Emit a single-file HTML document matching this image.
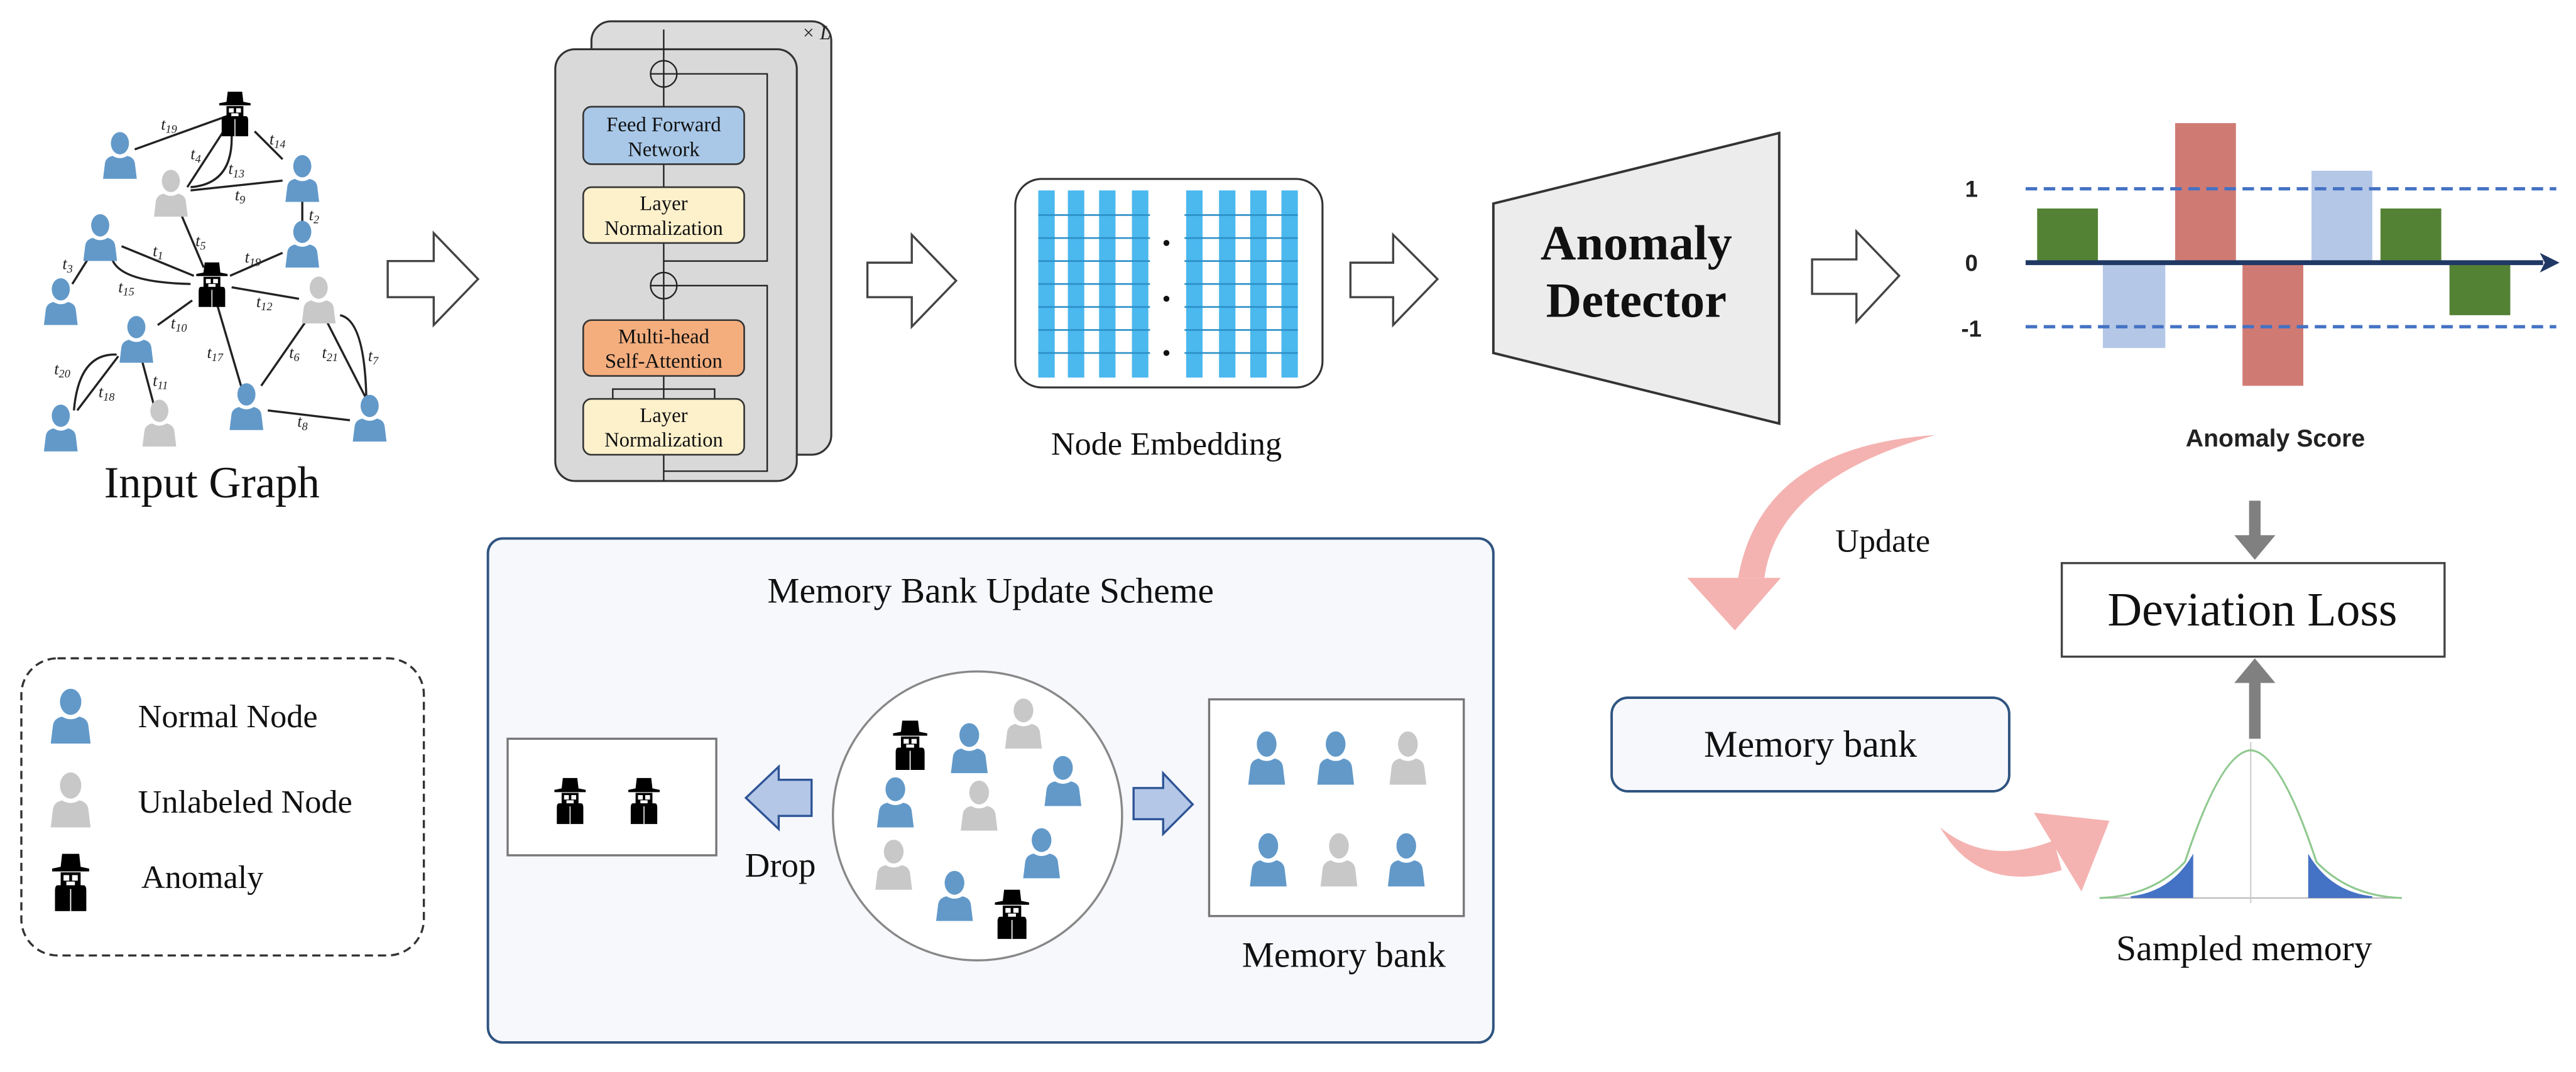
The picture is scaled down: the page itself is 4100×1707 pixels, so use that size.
<!DOCTYPE html>
<html><head><meta charset="utf-8"><style>
html,body{margin:0;padding:0;background:#fff;}
svg{display:block;}
.s{font-family:"Liberation Serif",serif;}
.a{font-family:"Liberation Sans",sans-serif;}
</style></head><body>
<svg width="4100" height="1707" viewBox="0 0 1568 653" preserveAspectRatio="none" xmlns="http://www.w3.org/2000/svg">
<defs>
<symbol id="p" viewBox="0 0 30 32" preserveAspectRatio="none">
<circle cx="15" cy="8" r="7.5"/>
<path d="M1 32 L2.5 22 Q3 17.5 9 16.5 Q15 19.5 21 16.5 Q27 17.5 27.5 22 L29 32 Z"/>
</symbol>
<symbol id="an" viewBox="0 0 30 32" preserveAspectRatio="none">
<path d="M9 1 L21 1 L22 8 L28 9 L28 10.5 L2 10.5 L2 9 L8 8 Z" fill="#000"/>
<rect x="8" y="11" width="14" height="9" fill="#000"/>
<rect x="10" y="12.5" width="4" height="3" fill="#fff"/>
<rect x="16" y="12.5" width="4" height="3" fill="#fff"/>
<rect x="12" y="16" width="6" height="4" fill="#fff"/>
<path d="M6 18 L24 18 Q26 18 26 21 L26 32 L4 32 L4 21 Q4 18 6 18 Z" fill="#000"/>
<rect x="14.6" y="20" width="0.8" height="12" fill="#fff"/>
</symbol>
</defs>

<g stroke="#222" stroke-width="1.3" fill="none">
<line x1="143" y1="69" x2="82" y2="91"/>
<line x1="136" y1="80" x2="114" y2="114"/>
<path d="M141 82 Q142 112 116 114"/>
<line x1="155" y1="80" x2="172" y2="97"/>
<line x1="116" y1="116" x2="172" y2="110"/>
<line x1="184" y1="122" x2="184" y2="138"/>
<line x1="110" y1="130" x2="124" y2="163"/>
<line x1="74" y1="150" x2="118" y2="168"/>
<path d="M68 157 Q72 172 116 173"/>
<line x1="54" y1="157" x2="44" y2="173"/>
<line x1="140" y1="168" x2="172" y2="154"/>
<line x1="141" y1="175" x2="182" y2="182"/>
<line x1="117" y1="183" x2="96" y2="198"/>
<line x1="132" y1="185" x2="147" y2="236"/>
<line x1="186" y1="196" x2="159" y2="235"/>
<line x1="199" y1="196" x2="223" y2="243"/>
<path d="M207 192 Q222 195 223 243"/>
<line x1="163" y1="250" x2="213" y2="256"/>
<line x1="72" y1="217" x2="47" y2="250"/>
<path d="M71 216 Q48 215 45 250"/>
<line x1="86" y1="218" x2="94" y2="248"/>
</g>
<g class="s" font-style="italic" font-size="10" fill="#222">
<text x="98" y="79">t<tspan font-size="7" dy="2">19</tspan></text>
<text x="116" y="97">t<tspan font-size="7" dy="2">4</tspan></text>
<text x="139" y="106">t<tspan font-size="7" dy="2">13</tspan></text>
<text x="164" y="88">t<tspan font-size="7" dy="2">14</tspan></text>
<text x="143" y="122">t<tspan font-size="7" dy="2">9</tspan></text>
<text x="188" y="134">t<tspan font-size="7" dy="2">2</tspan></text>
<text x="119" y="150">t<tspan font-size="7" dy="2">5</tspan></text>
<text x="93" y="156">t<tspan font-size="7" dy="2">1</tspan></text>
<text x="149" y="160">t<tspan font-size="7" dy="2">19</tspan></text>
<text x="38" y="164">t<tspan font-size="7" dy="2">3</tspan></text>
<text x="72" y="178">t<tspan font-size="7" dy="2">15</tspan></text>
<text x="156" y="187">t<tspan font-size="7" dy="2">12</tspan></text>
<text x="104" y="200">t<tspan font-size="7" dy="2">10</tspan></text>
<text x="126" y="218">t<tspan font-size="7" dy="2">17</tspan></text>
<text x="176" y="218">t<tspan font-size="7" dy="2">6</tspan></text>
<text x="196" y="218">t<tspan font-size="7" dy="2">21</tspan></text>
<text x="224" y="220">t<tspan font-size="7" dy="2">7</tspan></text>
<text x="33" y="228">t<tspan font-size="7" dy="2">20</tspan></text>
<text x="60" y="242">t<tspan font-size="7" dy="2">18</tspan></text>
<text x="93" y="235">t<tspan font-size="7" dy="2">11</tspan></text>
<text x="181" y="260">t<tspan font-size="7" dy="2">8</tspan></text>
</g>
<g fill="#6299c9">
<use href="#p" x="62" y="80" width="22" height="29"/>
<use href="#p" x="173" y="94" width="22" height="29"/>
<use href="#p" x="173" y="134" width="22" height="29"/>
<use href="#p" x="50" y="130" width="22" height="29"/>
<use href="#p" x="26" y="169" width="22" height="29"/>
<use href="#p" x="72" y="192" width="22" height="29"/>
<use href="#p" x="139" y="233" width="22" height="29"/>
<use href="#p" x="214" y="240" width="22" height="29"/>
<use href="#p" x="26" y="246" width="22" height="29"/>
</g>
<g fill="#c8c8c8">
<use href="#p" x="93" y="103" width="22" height="29"/>
<use href="#p" x="183" y="168" width="22" height="29"/>
<use href="#p" x="86" y="243" width="22" height="29"/>
</g>
<use href="#an" x="132" y="55" width="22" height="28"/>
<use href="#an" x="118" y="159" width="22" height="28"/>
<text class="s" x="129" y="303" font-size="27" text-anchor="middle" fill="#111">Input Graph</text>

<g fill="#fff" stroke="#444" stroke-width="1.3">
<polygon points="236,159 264,159 264,142 291,170 264,198 264,181 236,181"/>
<polygon points="528,160 555,160 555,143 582,171 555,199 555,181 528,181"/>
<polygon points="822,160 848,160 848,143 875,170 848,198 848,181 822,181"/>
<polygon points="1103,158 1130,158 1130,141 1156,168 1130,196 1130,179 1103,179"/>
</g>

<rect x="360" y="13" width="146" height="264" rx="12" fill="#dcdcdc" stroke="#333" stroke-width="1.2"/>
<text class="s" x="488" y="24" font-size="12" font-style="italic" fill="#222">× L</text>
<rect x="338" y="30" width="147" height="263" rx="12" fill="#d9d9d9" stroke="#333" stroke-width="1.2"/>
<g stroke="#222" stroke-width="0.9" fill="none">
<line x1="404" y1="293" x2="404" y2="277"/>
<line x1="404" y1="243" x2="404" y2="229"/>
<line x1="404" y1="195" x2="404" y2="182"/>
<line x1="404" y1="166" x2="404" y2="148"/>
<line x1="404" y1="114" x2="404" y2="100"/>
<line x1="404" y1="65" x2="404" y2="53"/>
<line x1="404" y1="37" x2="404" y2="18"/>
<polyline points="404,287 467,287 467,174 412,174"/>
<polyline points="404,159 467,159 467,45 412,45"/>
<polyline points="373,243 373,237 435,237 435,243"/>
<circle cx="404" cy="174" r="8"/>
<circle cx="404" cy="45" r="8"/>
<line x1="396" y1="174" x2="412" y2="174"/><line x1="404" y1="166" x2="404" y2="182"/>
<line x1="396" y1="45" x2="412" y2="45"/><line x1="404" y1="37" x2="404" y2="53"/>
</g>
<rect x="355" y="65" width="98" height="35" rx="5" fill="#a9c8e8" stroke="#333" stroke-width="1"/>
<rect x="355" y="114" width="98" height="34" rx="5" fill="#fdf1cc" stroke="#333" stroke-width="1"/>
<rect x="355" y="195" width="98" height="34" rx="5" fill="#f4ae7e" stroke="#333" stroke-width="1"/>
<rect x="355" y="243" width="98" height="34" rx="5" fill="#fdf1cc" stroke="#333" stroke-width="1"/>
<g class="s" font-size="12.5" text-anchor="middle" fill="#111">
<text x="404" y="80">Feed Forward</text><text x="404" y="95">Network</text>
<text x="404" y="128">Layer</text><text x="404" y="143">Normalization</text>
<text x="404" y="209">Multi-head</text><text x="404" y="224">Self-Attention</text>
<text x="404" y="257">Layer</text><text x="404" y="272">Normalization</text>
</g>

<rect x="618" y="109" width="187" height="127" rx="16" fill="#fff" stroke="#333" stroke-width="1.2"/>
<g fill="#4bb8ee">
<rect x="632" y="116" width="10" height="114"/><rect x="650" y="116" width="10" height="114"/>
<rect x="669" y="116" width="10" height="114"/><rect x="689" y="116" width="10" height="114"/>
<rect x="722" y="116" width="10" height="114"/><rect x="742" y="116" width="10" height="114"/>
<rect x="761" y="116" width="10" height="114"/><rect x="780" y="116" width="10" height="114"/>
</g>
<g stroke="#2b8fc7" stroke-width="1">
<line x1="632" y1="131" x2="790" y2="131"/><line x1="632" y1="145" x2="790" y2="145"/>
<line x1="632" y1="159" x2="790" y2="159"/><line x1="632" y1="173" x2="790" y2="173"/>
<line x1="632" y1="187" x2="790" y2="187"/><line x1="632" y1="201" x2="790" y2="201"/>
<line x1="632" y1="215" x2="790" y2="215"/>
</g>
<rect x="700" y="116" width="21" height="114" fill="#fff"/>
<circle cx="710" cy="148" r="1.8" fill="#111"/><circle cx="710" cy="182" r="1.8" fill="#111"/><circle cx="710" cy="215" r="1.8" fill="#111"/>
<text class="s" x="710" y="277" font-size="20" text-anchor="middle" fill="#111">Node Embedding</text>

<polygon points="909,124 1083,81 1083,258 909,215" fill="#ececec" stroke="#333" stroke-width="1.5"/>
<g class="s" font-size="30" font-weight="bold" text-anchor="middle" fill="#111">
<text x="996" y="158">Anomaly</text><text x="996" y="193">Detector</text>
</g>

<g>
<rect x="1240" y="127" width="37" height="33" fill="#548235"/>
<rect x="1280" y="160" width="38" height="52" fill="#b4c7e7"/>
<rect x="1324" y="75" width="37" height="85" fill="#d07a74"/>
<rect x="1365" y="160" width="37" height="75" fill="#d07a74"/>
<rect x="1407" y="104" width="37" height="56" fill="#b4c7e7"/>
<rect x="1449" y="127" width="37" height="33" fill="#548235"/>
<rect x="1491" y="160" width="37" height="32" fill="#548235"/>
</g>
<g stroke="#4472c4" stroke-width="2" stroke-dasharray="7,4">
<line x1="1233" y1="115" x2="1556" y2="115"/>
<line x1="1233" y1="199" x2="1556" y2="199"/>
</g>
<line x1="1233" y1="160" x2="1548" y2="160" stroke="#203864" stroke-width="3"/>
<polygon points="1546,154 1558,160 1546,166 1549,160" fill="#203864"/>
<g class="a" font-size="14" font-weight="bold" fill="#222" text-anchor="middle">
<text x="1200" y="120">1</text><text x="1200" y="165">0</text><text x="1200" y="205">-1</text>
<text x="1385" y="272" font-size="15">Anomaly Score</text>
</g>

<path d="M1178 265 Q1072 272 1058 352 L1074 352 Q1082 292 1178 265 Z" fill="#f4b3b1"/>
<polygon points="1027,352 1084,352 1056,384" fill="#f4b3b1"/>
<text class="s" x="1146" y="336" font-size="20" text-anchor="middle" fill="#111">Update</text>

<rect x="1255" y="343" width="233" height="57" fill="#fff" stroke="#444" stroke-width="1.3"/>
<text class="s" x="1371" y="381" font-size="29" text-anchor="middle" fill="#111">Deviation Loss</text>
<rect x="1369" y="305" width="7" height="23" fill="#808080"/>
<polygon points="1360,326 1385,326 1372.5,341" fill="#808080"/>
<rect x="1369" y="414" width="7" height="36" fill="#808080"/>
<polygon points="1360,416 1385,416 1372.5,401" fill="#808080"/>

<rect x="981" y="425" width="242" height="57" rx="10" fill="#f6f8fc" stroke="#2f5480" stroke-width="1.5"/>
<text class="s" x="1102" y="461" font-size="23" text-anchor="middle" fill="#111">Memory bank</text>

<path d="M1181 504 Q1205 545 1255 530 L1250 512 Q1210 528 1181 504 Z" fill="#f4b3b1"/>
<polygon points="1238,495 1284,500 1267,543" fill="#f4b3b1"/>

<line x1="1278" y1="547" x2="1462" y2="547" stroke="#bbb" stroke-width="0.8"/>
<line x1="1370" y1="452" x2="1370" y2="550" stroke="#ccc" stroke-width="0.8"/>
<path d="M1297 546 Q1322 543 1335 520 L1335 547 L1297 547 Z" fill="#4472c4"/>
<path d="M1444 546 Q1418 543 1405 520 L1405 547 L1444 547 Z" fill="#4472c4"/>
<path d="M1278 547 Q1310 546 1330 525 Q1352 458 1370 457 Q1388 458 1410 525 Q1430 546 1462 547" fill="none" stroke="#8fc98f" stroke-width="1.2"/>
<text class="s" x="1366" y="585" font-size="22" text-anchor="middle" fill="#111">Sampled memory</text>

<rect x="13" y="401" width="245" height="181" rx="22" fill="#fff" stroke="#333" stroke-width="1.3" stroke-dasharray="5,3"/>
<use href="#p" x="30" y="419" width="26" height="34" fill="#6299c9"/>
<use href="#p" x="30" y="470" width="26" height="34" fill="#c8c8c8"/>
<use href="#an" x="30" y="519" width="26" height="36"/>
<g class="s" font-size="20" fill="#111">
<text x="84" y="443">Normal Node</text>
<text x="84" y="495">Unlabeled Node</text>
<text x="86" y="541">Anomaly</text>
</g>

<rect x="297" y="328" width="612" height="307" rx="9" fill="#f6f8fc" stroke="#2f5480" stroke-width="1.5"/>
<text class="s" x="603" y="367" font-size="22" text-anchor="middle" fill="#111">Memory Bank Update Scheme</text>
<rect x="309" y="450" width="127" height="71" fill="#fff" stroke="#777" stroke-width="1.3"/>
<use href="#an" x="336" y="473" width="22" height="29"/>
<use href="#an" x="381" y="473" width="22" height="29"/>
<polygon points="494,475 494,497 474,497 474,505 454,486 474,467 474,475" fill="#b4c7e7" stroke="#2f5496" stroke-width="1.3"/>
<text class="s" x="475" y="534" font-size="21" text-anchor="middle" fill="#111">Drop</text>
<circle cx="595" cy="497" r="88" fill="#fff" stroke="#888" stroke-width="1.3"/>
<use href="#an" x="542" y="438" width="24" height="31"/>
<use href="#p" x="578" y="440" width="24" height="31" fill="#6299c9"/>
<use href="#p" x="611" y="425" width="24" height="31" fill="#c8c8c8"/>
<use href="#p" x="635" y="460" width="24" height="31" fill="#6299c9"/>
<use href="#p" x="533" y="473" width="24" height="31" fill="#6299c9"/>
<use href="#p" x="584" y="475" width="24" height="31" fill="#c8c8c8"/>
<use href="#p" x="622" y="504" width="24" height="31" fill="#6299c9"/>
<use href="#p" x="532" y="511" width="24" height="31" fill="#c8c8c8"/>
<use href="#p" x="569" y="530" width="24" height="31" fill="#6299c9"/>
<use href="#an" x="604" y="541" width="24" height="31"/>
<polygon points="690,480 708,480 708,471 726,490 708,508 708,499 690,499" fill="#b4c7e7" stroke="#2f5496" stroke-width="1.3"/>
<rect x="736" y="426" width="155" height="132" fill="#fff" stroke="#777" stroke-width="1.3"/>
<use href="#p" x="759" y="445" width="24" height="33" fill="#6299c9"/>
<use href="#p" x="801" y="445" width="24" height="33" fill="#6299c9"/>
<use href="#p" x="845" y="445" width="24" height="33" fill="#c8c8c8"/>
<use href="#p" x="760" y="507" width="24" height="33" fill="#6299c9"/>
<use href="#p" x="803" y="507" width="24" height="33" fill="#c8c8c8"/>
<use href="#p" x="844" y="507" width="24" height="33" fill="#6299c9"/>
<text class="s" x="818" y="589" font-size="22" text-anchor="middle" fill="#111">Memory bank</text>
</svg>
</body></html>
